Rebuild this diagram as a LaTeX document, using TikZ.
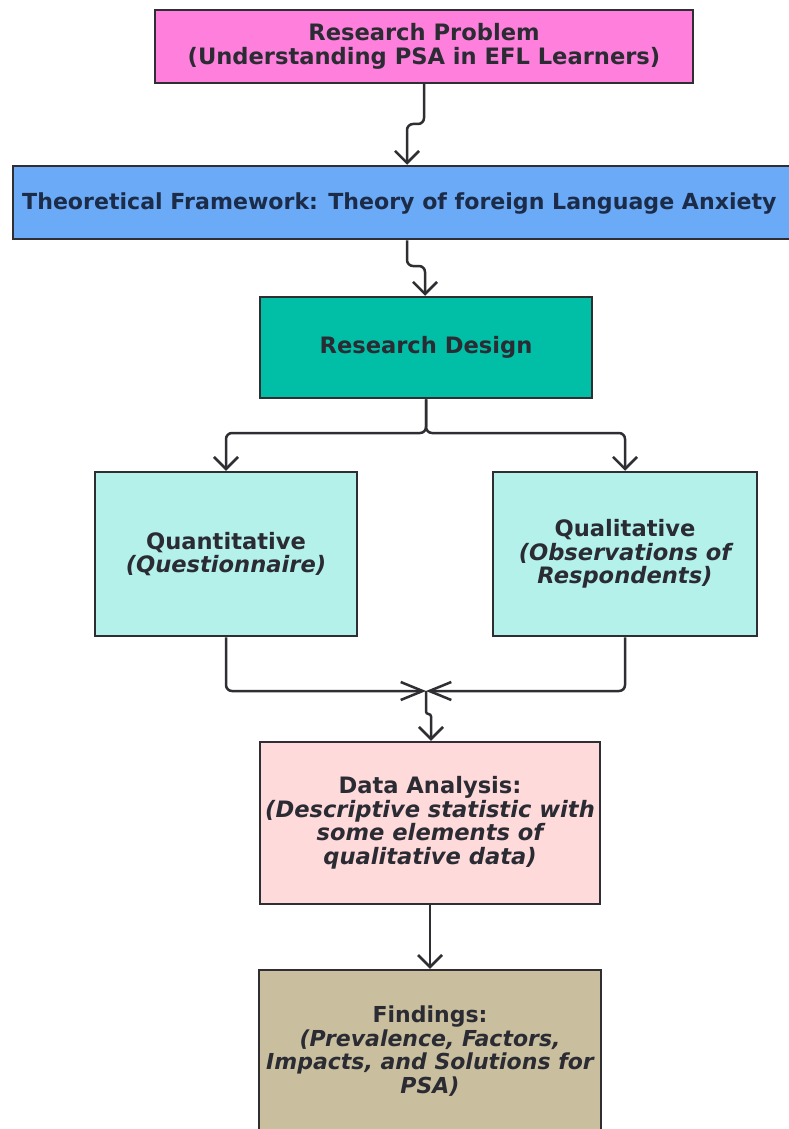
\documentclass[tikz,border=0pt]{standalone}
\usepackage{fontspec}
\setmainfont{DejaVu Sans}
\usetikzlibrary{arrows.meta}
\definecolor{edge}{HTML}{2E2E33}
\definecolor{ink}{HTML}{2B2B33}
\definecolor{navy}{HTML}{1C2C48}
\definecolor{pinkbox}{HTML}{FF80DC}
\definecolor{bluebox}{HTML}{6AAAF6}
\definecolor{tealbox}{HTML}{00BFA6}
\definecolor{cyanbox}{HTML}{B4F1EA}
\definecolor{rosebox}{HTML}{FFDADB}
\definecolor{khakibox}{HTML}{C9BF9F}
\begin{document}
\begin{tikzpicture}[x=1pt,y=-1pt,
  box/.style={draw=edge, line width=2.5pt, inner sep=0pt, align=center,
    font=\fontsize{22.6}{23.5}\selectfont\bfseries, text=ink},
  conn/.style={draw=edge, line width=2.5pt, rounded corners=6pt,
    -{Straight Barb[length=12pt,width=24pt]}},
  joinarrow/.style={draw=edge, line width=2.5pt, rounded corners=6pt,
    -{Straight Barb[length=22pt,width=18pt]}}
]
\clip (0,0) rectangle (789,1129);
\fill[white] (0,0) rectangle (789,1129);

% boxes
\node[box, fill=pinkbox, minimum width=538pt, minimum height=73pt] (rp) at (424,46.5)
  {Research Problem\\(Understanding PSA in EFL Learners)};
\node[box, fill=bluebox, minimum width=797pt, minimum height=73pt] (tf) at (411.5,202.5) {};
\node[anchor=west, inner sep=0pt, font=\fontsize{22.1}{23.5}\selectfont\bfseries, text=navy] (tftext) at (22,203)
  {Theoretical Framework: Theory of foreign Language Anxiety};
\node[box, fill=tealbox, minimum width=332pt, minimum height=101pt] (rd) at (426,347.5)
  {Research Design};
\node[box, fill=cyanbox, minimum width=262pt, minimum height=164pt] (qn) at (226,554)
  {Quantitative\\\itshape(Questionnaire)};
\node[box, fill=cyanbox, minimum width=264pt, minimum height=164pt] (ql) at (625,554)
  {Qualitative\\\itshape(Observations of\\\itshape Respondents)};
\node[box, fill=rosebox, minimum width=340pt, minimum height=162pt] (da) at (430,823)
  {Data Analysis:\\\itshape(Descriptive statistic with\\\itshape some elements of\\\itshape qualitative data)};
\node[box, fill=khakibox, minimum width=342pt, minimum height=162pt,
      font=\fontsize{22}{23.5}\selectfont\bfseries] (fd) at (430,1051)
  {Findings:\\\itshape(Prevalence, Factors,\\\itshape Impacts, and Solutions for\\\itshape PSA)};

% junction coordinates
\coordinate (j1) at (407,124);
\coordinate (j2) at (425,266);
\coordinate (fk) at (426,433);
\coordinate (jn) at (426,691);
\coordinate (jn2) at (431,714);

% connectors
\draw[conn] (rp.south) |- (j1) -- (j1 |- tf.north);
\draw[conn] (j1 |- tf.south) |- (j2) -- (j2 |- rd.north);
\draw[conn] (rd.south) -- (fk) -| (qn.north);
\draw[conn] (rd.south) -- (fk) -| (ql.north);
\draw[joinarrow] (qn.south) |- (jn);
\draw[joinarrow] (ql.south) |- (jn);
\draw[conn, rounded corners=2.5pt] (jn) |- (jn2) -- (jn2 |- da.north);
\draw[conn] (da.south) -- (fd.north);
\end{tikzpicture}
\end{document}
